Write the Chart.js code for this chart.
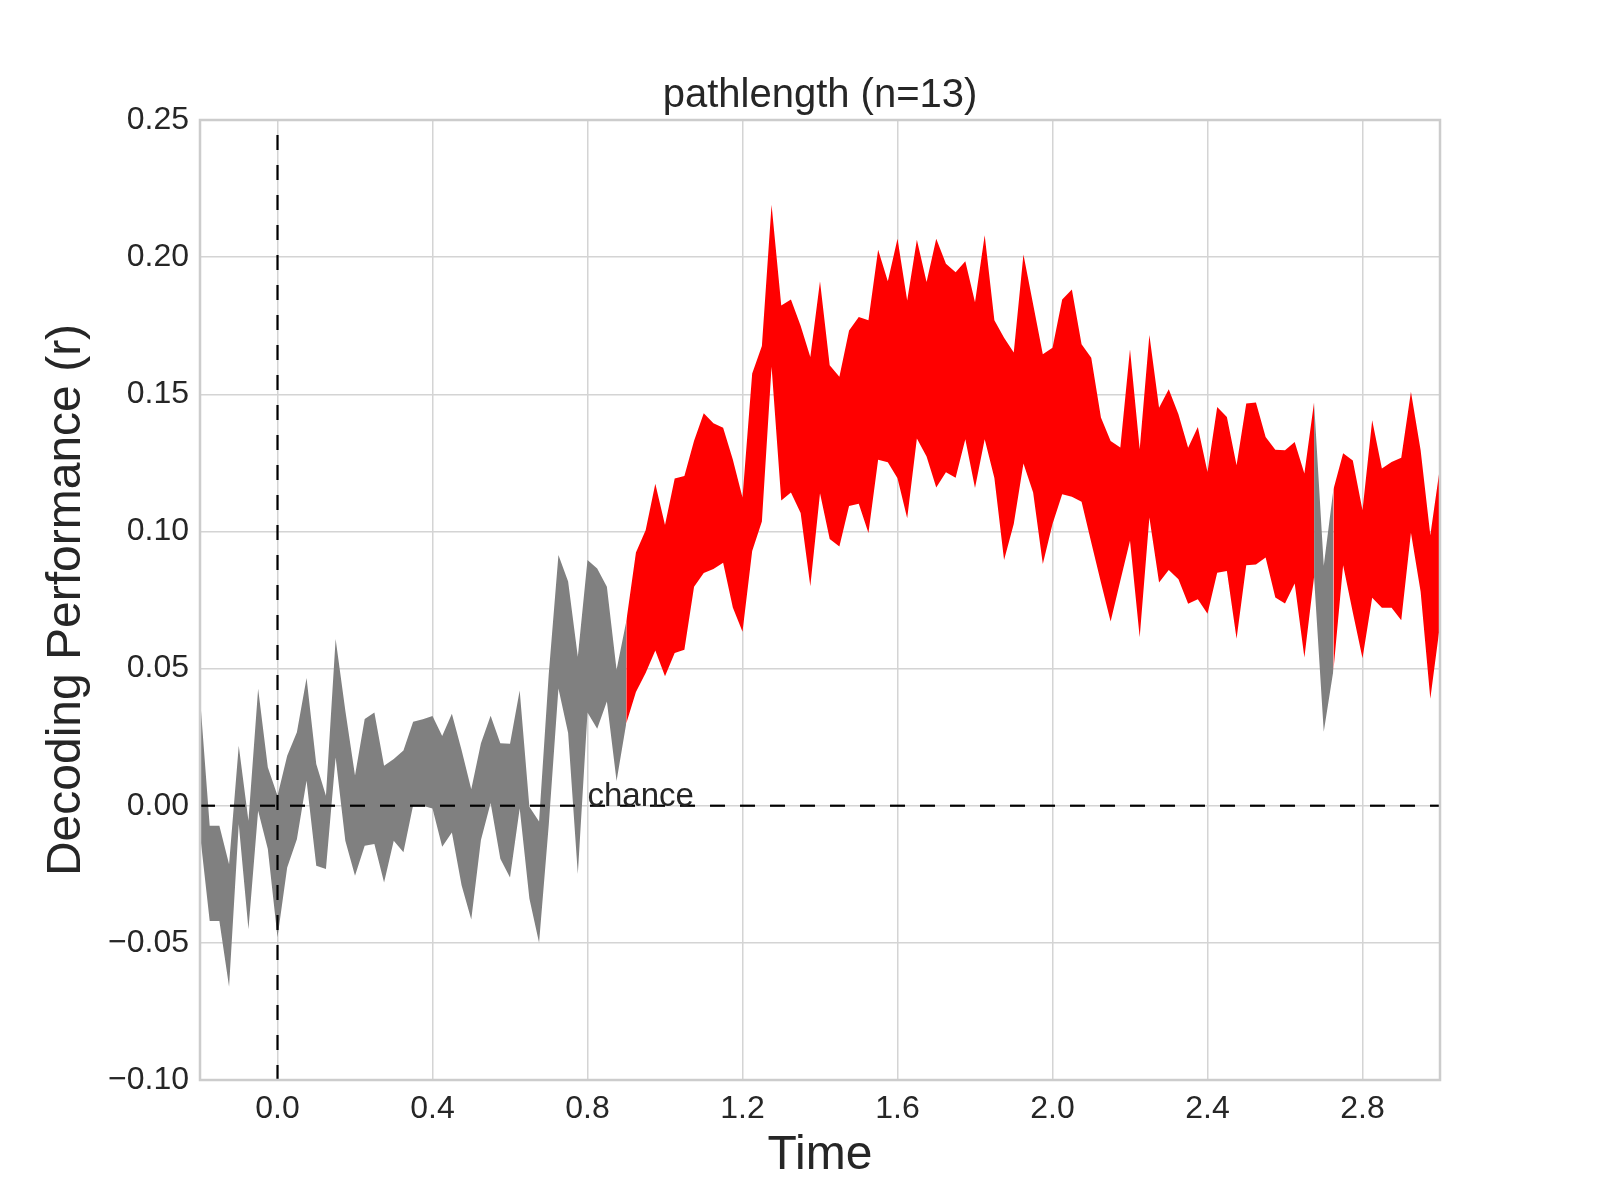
<!DOCTYPE html>
<html>
<head>
<meta charset="utf-8">
<title>pathlength (n=13)</title>
<script src="https://cdn.jsdelivr.net/npm/chart.js@4.4.1/dist/chart.umd.min.js"></script>
<style>
  html, body { margin: 0; padding: 0; background: #ffffff; }
  canvas { display: block; }
</style>
</head>
<body>
<canvas id="decodingChart" width="1600" height="1200"></canvas>
<script>
// time points (s)
const times = [
  -0.200, -0.175, -0.150, -0.125, -0.100, -0.075, -0.050, -0.025,
  0.000, 0.025, 0.050, 0.075, 0.100, 0.125, 0.150, 0.175,
  0.200, 0.225, 0.250, 0.275, 0.300, 0.325, 0.350, 0.375,
  0.400, 0.425, 0.450, 0.475, 0.500, 0.525, 0.550, 0.575,
  0.600, 0.625, 0.650, 0.675, 0.700, 0.725, 0.750, 0.775,
  0.800, 0.825, 0.850, 0.875, 0.900, 0.925, 0.950, 0.975,
  1.000, 1.025, 1.050, 1.075, 1.100, 1.125, 1.150, 1.175,
  1.200, 1.225, 1.250, 1.275, 1.300, 1.325, 1.350, 1.375,
  1.400, 1.425, 1.450, 1.475, 1.500, 1.525, 1.550, 1.575,
  1.600, 1.625, 1.650, 1.675, 1.700, 1.725, 1.750, 1.775,
  1.800, 1.825, 1.850, 1.875, 1.900, 1.925, 1.950, 1.975,
  2.000, 2.025, 2.050, 2.075, 2.100, 2.125, 2.150, 2.175,
  2.200, 2.225, 2.250, 2.275, 2.300, 2.325, 2.350, 2.375,
  2.400, 2.425, 2.450, 2.475, 2.500, 2.525, 2.550, 2.575,
  2.600, 2.625, 2.650, 2.675, 2.700, 2.725, 2.750, 2.775,
  2.800, 2.825, 2.850, 2.875, 2.900, 2.925, 2.950, 2.975,
  3.000
];

// upper edge of the band (mean + sem)
const upperBound = [
  0.0395, -0.0073, -0.0073, -0.0213, 0.0219, -0.0055, 0.0426, 0.0140,
  0.0036, 0.0182, 0.0268, 0.0466, 0.0152, 0.0036, 0.0608, 0.0347,
  0.0110, 0.0316, 0.0340, 0.0146, 0.0170, 0.0201, 0.0306, 0.0315,
  0.0327, 0.0254, 0.0335, 0.0203, 0.0060, 0.0228, 0.0328, 0.0228,
  0.0226, 0.0420, -0.0004, -0.0058, 0.0480, 0.0914, 0.0817, 0.0543,
  0.0896, 0.0865, 0.0798, 0.0496, 0.0672, 0.0923, 0.1004, 0.1174,
  0.1023, 0.1193, 0.1202, 0.1331, 0.1431, 0.1394, 0.1378, 0.1262,
  0.1124, 0.1576, 0.1676, 0.2191, 0.1824, 0.1846, 0.1750, 0.1636,
  0.1912, 0.1606, 0.1564, 0.1733, 0.1782, 0.1770, 0.2027, 0.1912,
  0.2067, 0.1842, 0.2063, 0.1909, 0.2067, 0.1976, 0.1945, 0.1985,
  0.1836, 0.2080, 0.1770, 0.1706, 0.1652, 0.2010, 0.1828, 0.1646,
  0.1670, 0.1846, 0.1882, 0.1682, 0.1633, 0.1415, 0.1330, 0.1306,
  0.1664, 0.1300, 0.1716, 0.1451, 0.1518, 0.1427, 0.1305, 0.1381,
  0.1217, 0.1454, 0.1417, 0.1241, 0.1466, 0.1470, 0.1344, 0.1298,
  0.1296, 0.1326, 0.1211, 0.1471, 0.0875, 0.1154, 0.1285, 0.1259,
  0.1077, 0.1405, 0.1229, 0.1253, 0.1269, 0.1509, 0.1296, 0.0986,
  0.1235
];

// lower edge of the band (mean - sem)
const lowerBound = [
  -0.0103, -0.0420, -0.0420, -0.0660, -0.0067, -0.0450, -0.0018, -0.0158,
  -0.0480, -0.0225, -0.0122, 0.0091, -0.0219, -0.0231, 0.0176, -0.0128,
  -0.0255, -0.0146, -0.0140, -0.0280, -0.0128, -0.0170, 0.0002, 0.0000,
  -0.0010, -0.0150, -0.0098, -0.0290, -0.0415, -0.0125, 0.0010, -0.0193,
  -0.0262, -0.0010, -0.0338, -0.0500, -0.0070, 0.0427, 0.0265, -0.0249,
  0.0340, 0.0281, 0.0380, 0.0090, 0.0300, 0.0415, 0.0484, 0.0566,
  0.0472, 0.0557, 0.0569, 0.0798, 0.0848, 0.0863, 0.0886, 0.0723,
  0.0634, 0.0929, 0.1036, 0.1600, 0.1113, 0.1142, 0.1067, 0.0800,
  0.1139, 0.0972, 0.0945, 0.1093, 0.1101, 0.0994, 0.1261, 0.1252,
  0.1194, 0.1048, 0.1339, 0.1273, 0.1160, 0.1216, 0.1196, 0.1336,
  0.1158, 0.1336, 0.1195, 0.0896, 0.1027, 0.1248, 0.1142, 0.0881,
  0.1027, 0.1136, 0.1126, 0.1108, 0.0960, 0.0814, 0.0672, 0.0820,
  0.0966, 0.0614, 0.1051, 0.0814, 0.0859, 0.0826, 0.0736, 0.0753,
  0.0700, 0.0849, 0.0856, 0.0609, 0.0877, 0.0879, 0.0905, 0.0759,
  0.0737, 0.0810, 0.0540, 0.0834, 0.0270, 0.0494, 0.0877, 0.0704,
  0.0538, 0.0758, 0.0722, 0.0722, 0.0676, 0.0995, 0.0780, 0.0390,
  0.0660
];

// time windows where decoding is significant (drawn red)
const sigRuns = [[0.900, 2.675], [2.725, 3.000]];

const xTickValues = [0.0, 0.4, 0.8, 1.2, 1.6, 2.0, 2.4, 2.8];
const yTickValues = [-0.10, -0.05, 0.00, 0.05, 0.10, 0.15, 0.20, 0.25];
const xRange = [-0.2, 3.0];
const yRange = [-0.10, 0.25];
const chanceLevel = 0.0;
const stimulusOnset = 0.0;
const chanceLabel = 'chance';
const chanceLabelX = 0.8;

const titleText = 'pathlength (n=13)';
const xTitle = 'Time';
const yTitle = 'Decoding Performance (r)';

const textColor = '#262626';
const fontFamily = '"Liberation Sans", Arial, Helvetica, sans-serif';

function isSig(t) {
  return sigRuns.some(r => t >= r[0] - 1e-9 && t <= r[1] + 1e-9);
}

// grey band is drawn where not significant, plus the neighbouring points so it joins the red parts
function showGrey(i) {
  if (!isSig(times[i])) return true;
  if (i > 0 && !isSig(times[i - 1])) return true;
  if (i < times.length - 1 && !isSig(times[i + 1])) return true;
  return false;
}

function bandPoints(values, keep) {
  return times.map((t, i) => ({ x: t, y: keep(i) ? values[i] : null }));
}

const redKeep = i => isSig(times[i]);

// frame + "chance" text drawn after the datasets
const frameAndLabels = {
  id: 'frameAndLabels',
  afterDatasetsDraw(chart) {
    const { ctx, chartArea: a, scales } = chart;
    ctx.save();
    ctx.font = '33px ' + fontFamily;
    ctx.fillStyle = textColor;
    ctx.textAlign = 'left';
    ctx.textBaseline = 'alphabetic';
    ctx.fillText(chanceLabel, scales.x.getPixelForValue(chanceLabelX), scales.y.getPixelForValue(chanceLevel));

    ctx.strokeStyle = '#cccccc';
    ctx.lineWidth = 2.5;
    ctx.strokeRect(a.left, a.top, a.right - a.left, a.bottom - a.top);
    ctx.restore();
  }
};

Chart.defaults.font.family = fontFamily;
Chart.defaults.color = textColor;

const noLine = {
  borderColor: 'rgba(0,0,0,0)',
  borderWidth: 0,
  pointRadius: 0,
  tension: 0,
  spanGaps: false
};

new Chart(document.getElementById('decodingChart'), {
  type: 'line',
  data: {
    datasets: [
      {
        label: 'chance',
        data: [{ x: xRange[0], y: chanceLevel }, { x: xRange[1], y: chanceLevel }],
        borderColor: '#000000',
        borderWidth: 2.2,
        borderDash: [15, 15],
        pointRadius: 0,
        fill: false
      },
      {
        label: 'onset',
        data: [{ x: stimulusOnset, y: yRange[0] }, { x: stimulusOnset, y: yRange[1] }],
        borderColor: '#000000',
        borderWidth: 2.2,
        borderDash: [15, 15],
        pointRadius: 0,
        fill: false
      },
      Object.assign({ label: 'sig upper', data: bandPoints(upperBound, redKeep), fill: false }, noLine),
      Object.assign({ label: 'sig lower', data: bandPoints(lowerBound, redKeep), fill: 2, backgroundColor: '#ff0000' }, noLine),
      Object.assign({ label: 'upper', data: bandPoints(upperBound, showGrey), fill: false }, noLine),
      Object.assign({ label: 'lower', data: bandPoints(lowerBound, showGrey), fill: 4, backgroundColor: '#808080' }, noLine)
    ]
  },
  options: {
    responsive: false,
    animation: false,
    events: [],
    layout: { padding: { left: 0, right: 160, top: 0, bottom: 0 } },
    plugins: {
      legend: { display: false },
      tooltip: { enabled: false },
      title: {
        display: true,
        text: titleText,
        fullSize: false,
        color: textColor,
        font: { size: 40, weight: 'normal', lineHeight: 1.2 },
        padding: { top: 71.5, bottom: 0.5 }
      }
    },
    scales: {
      x: {
        type: 'linear',
        min: xRange[0],
        max: xRange[1],
        afterBuildTicks: scale => { scale.ticks = xTickValues.map(v => ({ value: v })); },
        afterFit: scale => { scale.height = 120; },
        grid: { color: '#d4d4d4', lineWidth: 1.5, drawTicks: false },
        border: { display: false },
        ticks: {
          autoSkip: false,
          maxRotation: 0,
          padding: 10,
          color: textColor,
          font: { size: 32 },
          callback: v => v.toFixed(1)
        },
        title: {
          display: true,
          text: xTitle,
          color: textColor,
          font: { size: 48, lineHeight: 1.2 },
          padding: { top: 0, bottom: 15 }
        }
      },
      y: {
        type: 'linear',
        min: yRange[0],
        max: yRange[1],
        afterBuildTicks: scale => { scale.ticks = yTickValues.map(v => ({ value: v })); },
        afterFit: scale => { scale.width = 200; },
        grid: { color: '#d4d4d4', lineWidth: 1.5, drawTicks: false },
        border: { display: false },
        ticks: {
          autoSkip: false,
          padding: 11,
          color: textColor,
          font: { size: 32 },
          callback: v => (v < 0 ? '\u2212' : '') + Math.abs(v).toFixed(2)
        },
        title: {
          display: true,
          text: yTitle,
          color: textColor,
          font: { size: 48, lineHeight: 1.2 },
          padding: { top: 37.5, bottom: 0 }
        }
      }
    }
  },
  plugins: [frameAndLabels]
});
</script>
</body>
</html>
